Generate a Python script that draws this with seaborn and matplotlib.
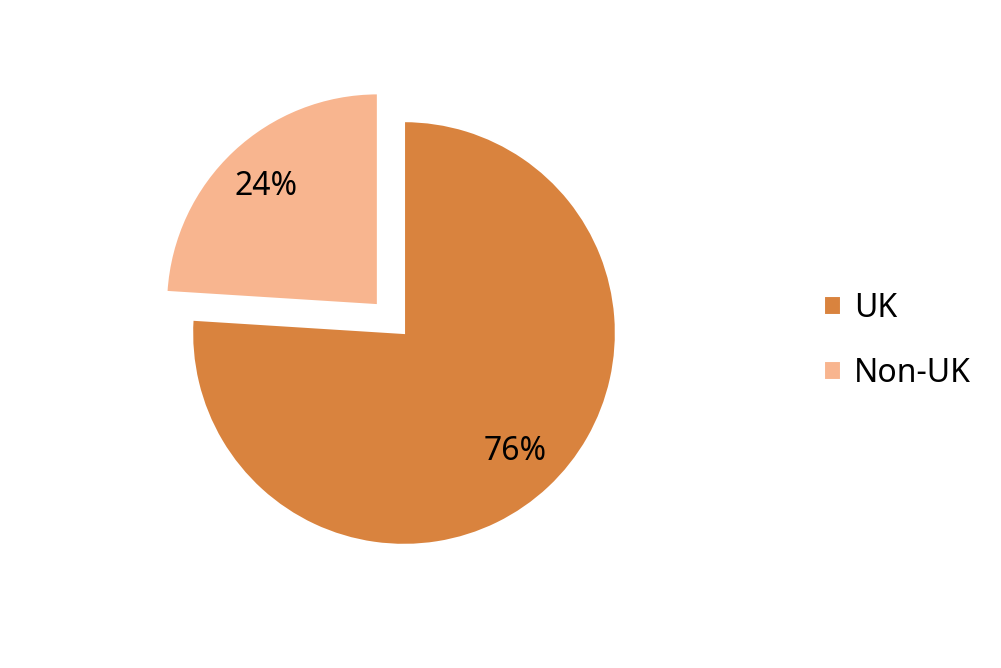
import matplotlib
matplotlib.use("Agg")
import matplotlib.pyplot as plt
import seaborn as sns

# Data
labels = ['UK', 'Non-UK']
shares = [76, 24]
colors = ['#D9833E', '#F8B58F']
explode = [0, 0.18]

sns.set_theme(style="white")
plt.rcParams['font.family'] = ['Noto Sans', 'DejaVu Sans']
plt.rcParams['text.color'] = 'black'

fig = plt.figure(figsize=(10.01, 6.68), dpi=100)
ax = fig.add_axes([154 / 1001, 85 / 668, 500 / 1001, 500 / 668])

wedges, texts, autotexts = ax.pie(
    shares, labels=None, colors=colors, explode=explode,
    startangle=90, counterclock=False, autopct='%1.0f%%', pctdistance=0.77,
    wedgeprops=dict(edgecolor='white', linewidth=1.5),
    textprops=dict(fontsize=23, color='black'))

ax.set_xlim(-1.18, 1.18)
ax.set_ylim(-1.18, 1.18)
ax.set_aspect('equal')
ax.axis('off')

leg = fig.legend(wedges, labels, loc='center left', bbox_to_anchor=(795 / 1001, 1 - 341 / 668),
                 frameon=False, fontsize=23, handlelength=0.55, handleheight=0.55,
                 handletextpad=0.4, labelspacing=1.0)
for t in leg.get_texts():
    t.set_color('black')

fig.savefig('out.png', dpi=100, facecolor='white')
